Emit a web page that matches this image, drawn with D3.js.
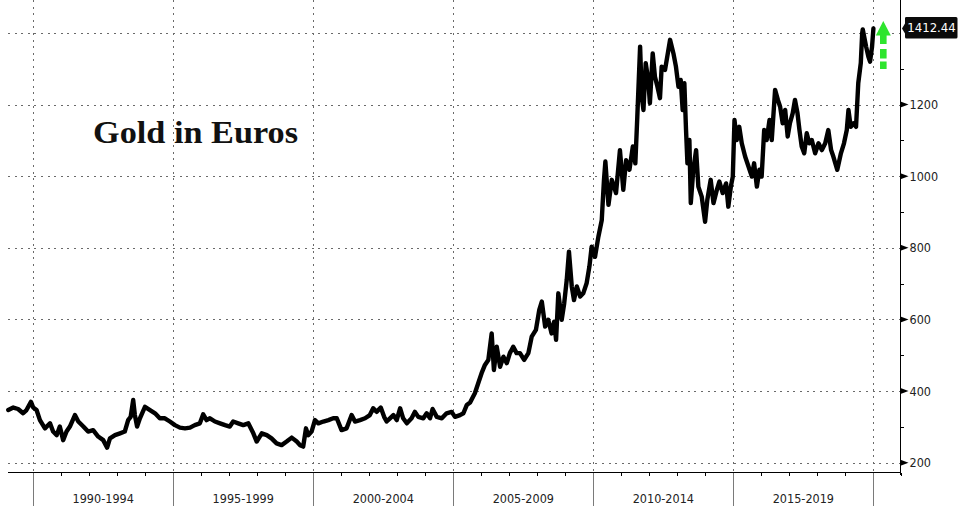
<!DOCTYPE html>
<html>
<head>
<meta charset="utf-8">
<script src="https://cdn.jsdelivr.net/npm/d3@7/dist/d3.min.js"></script>
<style>
  html, body { margin: 0; padding: 0; background: #ffffff; }
  svg { display: block; }
</style>
</head>
<body>
<svg id="chart" width="965" height="509"></svg>
<script>
// ---------------- DATA ----------------
const years = [
  1989.11,1989.29,1989.46,1989.64,1989.76,1989.92,1990.00,1990.12,1990.24,1990.42,
  1990.60,1990.71,1990.84,1990.95,1991.07,1991.19,1991.31,1991.49,1991.61,1991.79,
  1991.96,1992.14,1992.32,1992.50,1992.64,1992.74,1992.92,1993.10,1993.27,1993.39,
  1993.48,1993.57,1993.63,1993.71,1993.81,1993.99,1994.17,1994.35,1994.52,1994.70,
  1994.88,1995.06,1995.24,1995.42,1995.60,1995.77,1995.95,1996.07,1996.19,1996.31,
  1996.49,1996.67,1996.85,1997.02,1997.14,1997.32,1997.50,1997.68,1997.86,1997.98,
  1998.16,1998.34,1998.51,1998.69,1998.87,1999.05,1999.23,1999.41,1999.53,1999.64,
  1999.74,1999.82,1999.94,2000.06,2000.18,2000.36,2000.54,2000.71,2000.84,2001.01,
  2001.19,2001.37,2001.49,2001.67,2001.85,2002.02,2002.14,2002.26,2002.41,2002.53,
  2002.62,2002.74,2002.86,2002.98,2003.10,2003.21,2003.34,2003.51,2003.63,2003.75,
  2003.93,2004.05,2004.17,2004.26,2004.41,2004.59,2004.76,2004.94,2005.06,2005.24,
  2005.36,2005.48,2005.60,2005.77,2005.89,2006.01,2006.13,2006.25,2006.37,2006.45,
  2006.55,2006.67,2006.79,2006.91,2007.02,2007.14,2007.26,2007.38,2007.53,2007.68,
  2007.80,2007.95,2008.07,2008.16,2008.28,2008.39,2008.51,2008.60,2008.67,2008.75,
  2008.87,2008.96,2009.05,2009.13,2009.23,2009.31,2009.41,2009.53,2009.64,2009.76,
  2009.86,2009.94,2010.06,2010.18,2010.30,2010.38,2010.43,2010.54,2010.66,2010.81,
  2010.95,2011.07,2011.17,2011.29,2011.41,2011.50,2011.57,2011.67,2011.73,2011.79,
  2011.87,2011.96,2012.02,2012.12,2012.20,2012.29,2012.38,2012.44,2012.56,2012.64,
  2012.74,2012.86,2012.95,2013.04,2013.12,2013.19,2013.25,2013.31,2013.36,2013.43,
  2013.48,2013.57,2013.67,2013.75,2013.87,2013.99,2014.07,2014.19,2014.29,2014.41,
  2014.50,2014.62,2014.74,2014.82,2014.91,2014.98,2015.04,2015.12,2015.21,2015.30,
  2015.42,2015.54,2015.66,2015.74,2015.84,2015.93,2016.01,2016.10,2016.19,2016.29,
  2016.37,2016.49,2016.59,2016.67,2016.76,2016.85,2016.94,2017.02,2017.12,2017.20,
  2017.29,2017.36,2017.44,2017.53,2017.62,2017.71,2017.80,2017.92,2018.04,2018.16,
  2018.28,2018.39,2018.49,2018.57,2018.71,2018.84,2018.95,2019.05,2019.11,2019.19,
  2019.29,2019.38,2019.46,2019.55,2019.60,2019.62,2019.74,2019.82,2019.88,2019.95,
  2020.00
];
const prices = [
  347,354,350,338,347,370,354,347,319,296,
  310,287,277,301,263,287,301,333,315,301,
  287,291,273,263,242,268,277,282,287,319,
  328,375,333,301,324,356,347,338,324,324,
  315,305,298,296,298,305,310,335,319,324,
  315,310,305,301,315,310,305,310,282,259,
  282,277,268,254,249,259,270,259,249,245,
  296,277,287,319,310,315,319,324,324,291,
  296,333,315,319,324,333,352,342,354,328,
  315,324,333,319,352,324,310,324,342,328,
  324,338,324,350,328,324,338,342,328,333,
  338,361,368,394,422,450,473,487,561,459,
  524,468,496,478,506,524,506,506,487,506,
  552,571,627,650,580,599,561,594,543,673,
  599,645,710,789,692,654,692,664,673,701,
  748,803,775,831,877,990,1041,920,990,953,
  1073,962,1045,1018,1083,1036,1166,1362,1222,1185,
  1316,1269,1204,1343,1278,1250,1218,1306,1297,1334,
  1381,1343,1306,1250,1269,1185,1260,1129,1036,1101,
  925,1018,1073,971,943,873,934,990,925,962,
  985,953,980,915,971,999,1157,1101,1138,1092,
  1055,1027,999,1036,971,1018,999,1129,1101,1157,
  1101,1241,1213,1194,1148,1185,1111,1148,1176,1213,
  1176,1129,1083,1064,1120,1092,1101,1064,1092,1073,
  1092,1129,1073,1055,1018,1064,1092,1129,1185,1138,
  1148,1138,1260,1316,1400,1410,1362,1334,1320,1360,
  1412.44
];
const periodStarts = [1990, 1995, 2000, 2005, 2010, 2015, 2020];
const periodLabels = ["1990-1994", "1995-1999", "2000-2004", "2005-2009", "2010-2014", "2015-2019"];
const yearTicks = d3.range(1990, 2022);
const yGridValues = [200, 400, 600, 800, 1000, 1200, 1400];
const yLabelValues = [200, 400, 600, 800, 1000, 1200];
const yMinorValues = [300, 500, 700, 900, 1100, 1300];
const lastLabel = "1412.44";
const titleText = "Gold in Euros";

// ---------------- CHART ----------------
const svg = d3.select("#chart");
const x = d3.scaleLinear().domain([1989.1, 2020.95]).range([8, 900]);
const y = d3.scaleLinear().domain([200, 1400]).range([462.7, 33]);
const axisY = 472.5;
const axisX = 900.5;

// gridlines
const grid = svg.append("g").attr("stroke", "#6a6a6a").attr("stroke-width", 1)
  .attr("stroke-dasharray", "2,4.6").attr("shape-rendering", "crispEdges");
grid.selectAll("line.h").data(yGridValues).join("line")
  .attr("x1", 8).attr("x2", axisX)
  .attr("y1", d => Math.round(y(d)) + 0.5).attr("y2", d => Math.round(y(d)) + 0.5);
grid.selectAll("line.v").data(periodStarts).join("line")
  .attr("x1", d => Math.round(x(d)) + 0.5).attr("x2", d => Math.round(x(d)) + 0.5)
  .attr("y1", 0).attr("y2", axisY);

// title
svg.append("text")
  .attr("x", 93).attr("y", 143)
  .attr("font-family", "'Liberation Serif', 'DejaVu Serif', serif")
  .attr("font-weight", "bold").attr("font-size", 31)
  .attr("fill", "#111")
  .attr("textLength", 205).attr("lengthAdjust", "spacingAndGlyphs")
  .text(titleText);

// series line
const data = years.map((t, i) => ({ t, v: prices[i] }));
svg.append("path").datum(data)
  .attr("fill", "none").attr("stroke", "#000").attr("stroke-width", 4.4)
  .attr("stroke-linejoin", "round").attr("stroke-linecap", "round")
  .attr("d", d3.line().x(d => x(d.t)).y(d => y(d.v)));

// x axis
const xa = svg.append("g").attr("shape-rendering", "crispEdges");
xa.append("line").attr("x1", 8).attr("x2", axisX).attr("y1", axisY).attr("y2", axisY)
  .attr("stroke", "#000").attr("stroke-width", 1);
xa.selectAll("line.minor").data(yearTicks.filter(d => !periodStarts.includes(d))).join("line")
  .attr("x1", d => Math.round(x(d)) + 0.5).attr("x2", d => Math.round(x(d)) + 0.5)
  .attr("y1", axisY).attr("y2", axisY + 3.5).attr("stroke", "#000");
xa.selectAll("line.major").data(periodStarts).join("line")
  .attr("x1", d => Math.round(x(d)) + 0.5).attr("x2", d => Math.round(x(d)) + 0.5)
  .attr("y1", axisY).attr("y2", 506).attr("stroke", "#7a7a7a");
xa.selectAll("text").data(periodLabels).join("text")
  .attr("x", (d, i) => (x(periodStarts[i]) + x(periodStarts[i + 1])) / 2)
  .attr("y", 498.5).attr("dy", "0.35em").attr("text-anchor", "middle")
  .attr("font-family", "'DejaVu Sans Condensed', 'DejaVu Sans', sans-serif")
  .attr("font-stretch", "condensed")
  .attr("font-size", 12.5).attr("fill", "#222")
  .text(d => d);

// y axis (right)
const ya = svg.append("g");
ya.append("line").attr("x1", axisX).attr("x2", axisX).attr("y1", 0).attr("y2", 475)
  .attr("stroke", "#000").attr("stroke-width", 1).attr("shape-rendering", "crispEdges");
ya.selectAll("line.minor").data(yMinorValues).join("line")
  .attr("x1", axisX).attr("x2", axisX + 3.5)
  .attr("y1", d => Math.round(y(d)) + 0.5).attr("y2", d => Math.round(y(d)) + 0.5)
  .attr("stroke", "#000").attr("shape-rendering", "crispEdges");
ya.selectAll("path.tri").data(yLabelValues).join("path")
  .attr("d", d => `M${axisX},${y(d) - 3} L${axisX + 8},${y(d)} L${axisX},${y(d) + 3} Z`)
  .attr("fill", "#000");
ya.selectAll("text").data(yLabelValues).join("text")
  .attr("x", 909.5).attr("y", d => y(d)).attr("dy", "0.36em")
  .attr("font-family", "'DejaVu Sans Condensed', 'DejaVu Sans', sans-serif")
  .attr("font-stretch", "condensed")
  .attr("font-size", 12.5).attr("fill", "#222")
  .text(d => d);

// last value tag
const lastV = prices[prices.length - 1];
const ly = y(lastV);
svg.append("path")
  .attr("d", `M${axisX + 1.5},${ly} L${905},${ly - 5} L${905},${ly - 10.5} Q905,${ly - 11.5} 906.5,${ly - 11.5}
              L956,${ly - 11.5} Q957.5,${ly - 11.5} 957.5,${ly - 10} L957.5,${ly + 8.5} Q957.5,${ly + 10} 956,${ly + 10}
              L906.5,${ly + 10} Q905,${ly + 10} 905,${ly + 8.5} L905,${ly + 5} Z`)
  .attr("fill", "#0b0b0b");
svg.append("text")
  .attr("x", 931.5).attr("y", ly - 0.8).attr("dy", "0.36em").attr("text-anchor", "middle")
  .attr("font-family", "'DejaVu Sans Condensed', 'DejaVu Sans', sans-serif")
  .attr("font-stretch", "condensed")
  .attr("font-size", 13).attr("fill", "#fff")
  .text(lastLabel);

// green arrow annotation
const defs = svg.append("defs");
defs.append("filter").attr("id", "glow").attr("x", "-50%").attr("y", "-50%").attr("width", "200%").attr("height", "200%")
  .append("feGaussianBlur").attr("stdDeviation", 0.7);
const ax = 883.3;
const arrow = svg.append("g").attr("fill", "#2ee52e").attr("filter", "url(#glow)");
arrow.append("path").attr("d", `M${ax},21 L${ax + 7.5},35.5 L${ax - 7.5},35.5 Z`);
arrow.append("rect").attr("x", ax - 3.3).attr("y", 34).attr("width", 6.6).attr("height", 10);
arrow.append("rect").attr("x", ax - 3.3).attr("y", 49).attr("width", 6.6).attr("height", 9.5);
arrow.append("rect").attr("x", ax - 3.3).attr("y", 61.5).attr("width", 6.6).attr("height", 7.5);
</script>
</body>
</html>
